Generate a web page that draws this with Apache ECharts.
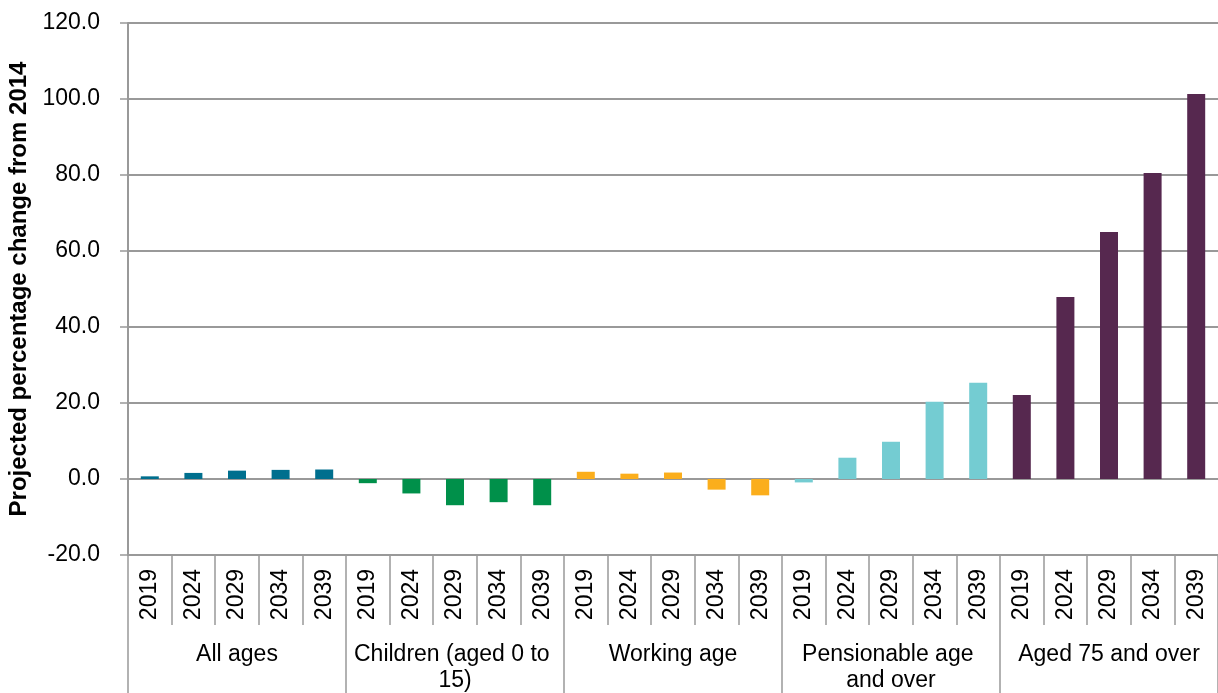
<!DOCTYPE html>
<html>
<head>
<meta charset="utf-8">
<script src="https://cdn.jsdelivr.net/npm/echarts@6/dist/echarts.min.js"></script>
<style>
  html, body { margin: 0; padding: 0; background: #fff; }
  #chart { width: 1218px; height: 693px; }
</style>
</head>
<body>
<div id="chart"></div>
<script>
// categories
const years = ['2019', '2024', '2029', '2034', '2039']
const groups = ['All ages', 'Children (aged 0 to 15)', 'Working age', 'Pensionable age and over', 'Aged 75 and over']

// projected % change from 2014, per group
const allAges = [0.7, 1.6, 2.2, 2.4, 2.5]
const children = [-1.1, -3.8, -6.9, -6.1, -6.9]
const workingAge = [1.9, 1.4, 1.7, -2.8, -4.3]
const pensionable = [-0.9, 5.6, 9.8, 20.3, 25.3]
const aged75 = [22.1, 47.9, 65.0, 80.5, 101.3]

const groupValues = [allAges, children, workingAge, pensionable, aged75]
const groupColors = ['#006f8e', '#00904a', '#fbae1c', '#74ccd2', '#56284f']

const font = '"Liberation Sans", Arial, sans-serif'
const gray = '#999999'

const xCats = []
const barData = []
groupValues.forEach((vals, g) => {
  vals.forEach((v, i) => {
    xCats.push(years[i])
    barData.push({ value: v, itemStyle: { color: groupColors[g] } })
  })
})

const chart = echarts.init(document.getElementById('chart'))

chart.setOption({
  animation: false,
  grid: { left: 128, right: 0, top: 23, bottom: 138, outerBoundsMode: 'none', containLabel: false },
  xAxis: [
    {
      type: 'category',
      data: xCats,
      position: 'bottom',
      axisLine: { onZero: false, lineStyle: { color: gray, width: 2 } },
      axisTick: { show: true, length: 70, lineStyle: { color: gray, width: 1.5 } },
      axisLabel: {
        rotate: 90,
        margin: 14,
        color: '#000',
        fontFamily: font,
        fontSize: 23,
        interval: 0
      }
    },
    {
      type: 'category',
      data: groups,
      position: 'bottom',
      axisLine: { show: false, onZero: false },
      axisTick: { show: true, length: 138, lineStyle: { color: gray, width: 1.5 } },
      axisLabel: {
        margin: 87,
        color: '#000',
        fontFamily: font,
        fontSize: 23,
        lineHeight: 26,
        width: 212,
        overflow: 'break',
        interval: 0
      }
    }
  ],
  yAxis: {
    type: 'value',
    min: -20,
    max: 120,
    interval: 20,
    name: 'Projected percentage change from 2014',
    nameLocation: 'middle',
    nameGap: 96,
    nameTextStyle: {
      color: '#000',
      fontFamily: font,
      fontSize: 24,
      fontWeight: 'bold'
    },
    axisLine: { show: true, lineStyle: { color: gray, width: 2 } },
    axisTick: { show: true, length: 8, lineStyle: { color: gray, width: 1.5 } },
    axisLabel: {
      margin: 28,
      color: '#000',
      fontFamily: font,
      fontSize: 23,
      formatter: v => v.toFixed(1)
    },
    splitLine: { show: true, lineStyle: { color: gray, width: 2 } }
  },
  series: [
    {
      type: 'bar',
      xAxisIndex: 0,
      data: barData,
      barWidth: 18
    }
  ]
})
</script>
</body>
</html>
